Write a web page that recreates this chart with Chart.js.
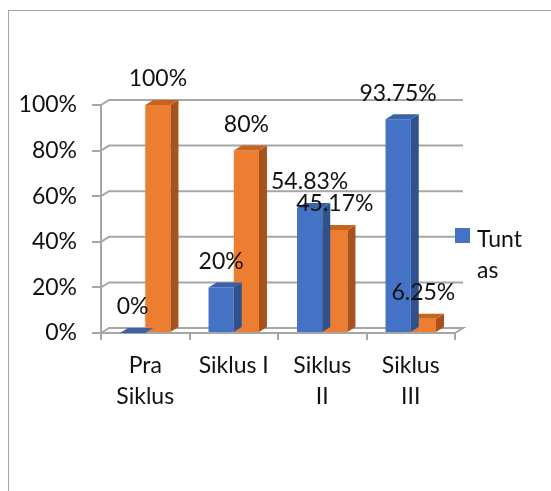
<!DOCTYPE html>
<html>
<head>
<meta charset="utf-8">
<script src="https://cdn.jsdelivr.net/npm/chart.js@4/dist/chart.umd.min.js"></script>
<style>
  html, body { margin: 0; padding: 0; background: #fff; }
  #wrap { position: relative; width: 551px; height: 491px; overflow: hidden; }
  #frame { position: absolute; left: 8px; top: 10px; right: 0; bottom: -2px;
           border-left: 1px solid #a6a6a6; border-top: 1px solid #a6a6a6; }
  #myChart { position: absolute; left: 0; top: 0; }
  #legend { position: absolute; left: 455px; top: 224px; font: 23px Lato, sans-serif;
            color: #111; line-height: 31px; }
  #legend .box { position: absolute; left: 0; top: 4px; width: 15px; height: 15px; background: #4472C4; }
  #legend .txt { position: absolute; left: 22px; top: -1px; width: 52px; word-break: break-all; }
</style>
</head>
<body>
<div id="wrap">
  <div id="frame"></div>
  <canvas id="myChart" width="551" height="491"></canvas>
  <div id="legend"><span class="box"></span><span class="txt" id="legendText"></span></div>
</div>
<script>
const categories = [['Pra', 'Siklus'], 'Siklus I', ['Siklus', 'II'], ['Siklus', 'III']];
const tuntas = [0, 20, 54.83, 93.75];
const tidakTuntas = [100, 80, 45.17, 6.25];
const yTicks = [0, 20, 40, 60, 80, 100];

const font = 'Lato, sans-serif';
const depthX = 8, depthY = -5;
const faces = [
  { top: '#3a62ab', side: '#2f528f' },
  { top: '#c7651f', side: '#a9531c' }
];

// back wall and floor lines, drawn behind the bars
const wall = {
  id: 'wall',
  beforeDatasetsDraw(chart) {
    const { ctx, chartArea: a, scales: { y } } = chart;
    ctx.save();
    ctx.strokeStyle = '#a6a6a6';
    ctx.lineWidth = 2;
    yTicks.forEach(v => {
      const py = y.getPixelForValue(v);
      ctx.beginPath();
      ctx.moveTo(a.left, py);
      ctx.lineTo(a.left + depthX, py + depthY);
      ctx.lineTo(a.right + depthX, py + depthY);
      if (v === 0) ctx.lineTo(a.right, py);
      ctx.stroke();
    });
    ctx.restore();
  }
};

// side and top faces of each bar, then the value labels
const bar3d = {
  id: 'bar3d',
  afterDatasetDraw(chart, args) {
    const { ctx } = chart;
    const f = faces[args.index];
    ctx.save();
    args.meta.data.forEach(el => {
      const x0 = el.x - el.width / 2, x1 = el.x + el.width / 2;
      const t = el.y, b = el.base;
      ctx.fillStyle = f.side;
      ctx.beginPath();
      ctx.moveTo(x1, t); ctx.lineTo(x1 + depthX, t + depthY);
      ctx.lineTo(x1 + depthX, b + depthY); ctx.lineTo(x1, b);
      ctx.closePath(); ctx.fill();
      ctx.fillStyle = f.top;
      ctx.beginPath();
      ctx.moveTo(x0, t); ctx.lineTo(x0 + depthX, t + depthY);
      ctx.lineTo(x1 + depthX, t + depthY); ctx.lineTo(x1, t);
      ctx.closePath(); ctx.fill();
    });
    ctx.restore();
  },
  afterDatasetsDraw(chart) {
    const { ctx } = chart;
    ctx.save();
    ctx.font = '23px ' + font;
    ctx.fillStyle = '#111';
    ctx.textAlign = 'center';
    ctx.textBaseline = 'middle';
    chart.data.datasets.forEach((ds, i) => {
      chart.getDatasetMeta(i).data.forEach((el, j) => {
        ctx.fillText(ds.data[j] + '%', el.x, el.y - 26);
      });
    });
    ctx.restore();
  }
};

const chart = new Chart(document.getElementById('myChart'), {
  type: 'bar',
  data: {
    labels: categories,
    datasets: [
      { label: 'Tuntas', data: tuntas, backgroundColor: '#4472C4' },
      { label: 'Tidak Tuntas', data: tidakTuntas, backgroundColor: '#ED7D31' }
    ]
  },
  options: {
    responsive: false,
    animation: false,
    layout: { padding: { left: 0, top: 105, right: 96, bottom: 0 } },
    categoryPercentage: 0.57,
    barPercentage: 1,
    borderWidth: 0,
    plugins: { legend: { display: false }, tooltip: { enabled: false } },
    scales: {
      y: {
        min: 0, max: 100,
        afterFit: s => { s.width = 101; },
        afterBuildTicks: s => { s.ticks = yTicks.map(v => ({ value: v })); },
        ticks: { callback: v => v + '%', font: { family: font, size: 23 }, color: '#111', padding: 15 },
        grid: { drawOnChartArea: false, tickLength: 9, color: '#a6a6a6', lineWidth: 2 },
        border: { display: true, color: '#a6a6a6', width: 2 }
      },
      x: {
        afterFit: s => { s.height = 158; },
        ticks: { font: { family: font, size: 23, lineHeight: 1.35 }, color: '#111', padding: 10, maxRotation: 0 },
        grid: { drawOnChartArea: false, tickLength: 7, color: '#a6a6a6', lineWidth: 2 },
        border: { display: true, color: '#a6a6a6', width: 2 }
      }
    }
  },
  plugins: [wall, bar3d]
});

document.getElementById('legendText').textContent = chart.data.datasets[0].label;
</script>
</body>
</html>
